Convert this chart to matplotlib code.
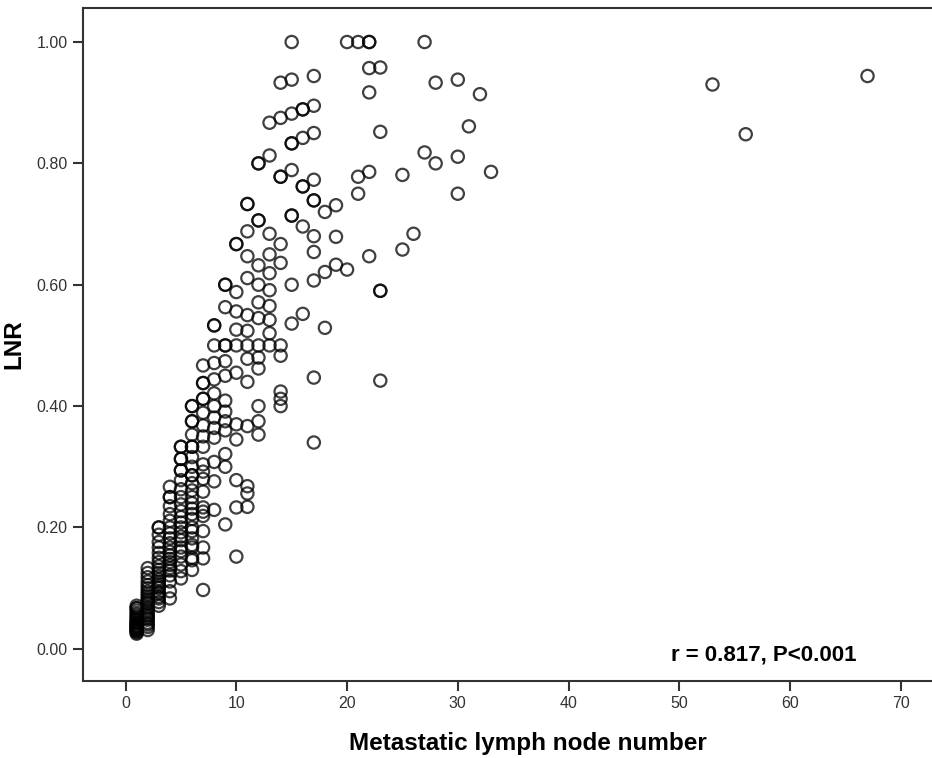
import numpy as np
import matplotlib
matplotlib.use("Agg")
import matplotlib.pyplot as plt

plt.rcParams['font.family'] = ['Liberation Sans', 'DejaVu Sans']

# LNR values grouped by metastatic lymph node count
lnr_1 = [0.025, 0.027, 0.029, 0.030, 0.032, 0.033, 0.034, 0.036, 0.037, 0.038, 0.040,
         0.042, 0.043, 0.045, 0.048, 0.050, 0.053, 0.056, 0.059, 0.063, 0.067, 0.067, 0.071]
lnr_2 = [0.031, 0.036, 0.040, 0.043, 0.048, 0.051, 0.054, 0.057, 0.061, 0.065, 0.069,
         0.074, 0.077, 0.080, 0.083, 0.087, 0.091, 0.095, 0.100, 0.105, 0.111, 0.118, 0.125, 0.133]
lnr_3 = [0.071, 0.077, 0.083, 0.086, 0.091, 0.094, 0.100, 0.103, 0.107, 0.111, 0.115,
         0.120, 0.125, 0.130, 0.136, 0.143, 0.150, 0.158, 0.167, 0.176, 0.188, 0.200, 0.200]
lnr_4 = [0.083, 0.095, 0.111, 0.121, 0.129, 0.133, 0.138, 0.143, 0.148, 0.154, 0.160,
         0.167, 0.174, 0.182, 0.190, 0.200, 0.211, 0.222, 0.235, 0.250, 0.250, 0.267]
lnr_5 = [0.116, 0.128, 0.139, 0.152, 0.161, 0.167, 0.179, 0.185, 0.192, 0.200, 0.208,
         0.217, 0.227, 0.238, 0.250, 0.263, 0.278, 0.294, 0.294, 0.313, 0.313, 0.333, 0.333]
lnr_6 = [0.130, 0.146, 0.150, 0.167, 0.171, 0.182, 0.194, 0.200, 0.214, 0.222, 0.231,
         0.240, 0.250, 0.261, 0.273, 0.286, 0.286, 0.300, 0.316, 0.333, 0.333, 0.353,
         0.375, 0.375, 0.400, 0.400]
lnr_7 = [0.097, 0.149, 0.167, 0.194, 0.219, 0.226, 0.233, 0.259, 0.280, 0.292, 0.304,
         0.333, 0.350, 0.368, 0.389, 0.412, 0.412, 0.438, 0.438, 0.467]
lnr_8 = [0.229, 0.276, 0.308, 0.348, 0.364, 0.381, 0.400, 0.421, 0.444, 0.471, 0.500,
         0.533, 0.533]
lnr_9 = [0.205, 0.300, 0.321, 0.360, 0.375, 0.391, 0.409, 0.450, 0.474, 0.500, 0.500,
         0.563, 0.600, 0.600]
lnr_10 = [0.152, 0.233, 0.278, 0.345, 0.370, 0.455, 0.500, 0.526, 0.556, 0.588, 0.667, 0.667]
lnr_11 = [0.234, 0.256, 0.268, 0.367, 0.440, 0.478, 0.500, 0.524, 0.550, 0.611, 0.647,
          0.688, 0.733, 0.733]
lnr_12 = [0.353, 0.375, 0.400, 0.462, 0.480, 0.500, 0.545, 0.571, 0.600, 0.632, 0.706,
          0.706, 0.800, 0.800]
lnr_13 = [0.500, 0.520, 0.542, 0.565, 0.591, 0.619, 0.650, 0.684, 0.813, 0.867]
lnr_14 = [0.400, 0.412, 0.424, 0.483, 0.500, 0.636, 0.667, 0.778, 0.778, 0.875, 0.933]
lnr_15 = [0.536, 0.600, 0.714, 0.714, 0.789, 0.833, 0.833, 0.882, 0.938, 1.000]
lnr_16 = [0.552, 0.696, 0.762, 0.762, 0.842, 0.889, 0.889]
lnr_17 = [0.340, 0.447, 0.607, 0.654, 0.680, 0.739, 0.739, 0.773, 0.850, 0.895, 0.944]
lnr_18 = [0.529, 0.621, 0.720]
lnr_19 = [0.633, 0.679, 0.731]
lnr_20 = [0.625, 1.000]
lnr_21 = [0.750, 0.778, 1.000]
lnr_22 = [0.647, 0.786, 0.917, 0.957, 1.000, 1.000]
lnr_23 = [0.442, 0.590, 0.590, 0.852, 0.958]

# sparse cases with many positive nodes
far_nodes = [25, 25, 26, 27, 27, 28, 28, 30, 30, 30, 31, 32, 33, 53, 56, 67]
far_lnr = [0.658, 0.781, 0.684, 0.818, 1.000, 0.800, 0.933, 0.750, 0.811, 0.938,
           0.861, 0.914, 0.786, 0.930, 0.848, 0.944]

x_ticks = [0, 10, 20, 30, 40, 50, 60, 70]
y_ticks = [0.0, 0.2, 0.4, 0.6, 0.8, 1.0]

columns = [lnr_1, lnr_2, lnr_3, lnr_4, lnr_5, lnr_6, lnr_7, lnr_8, lnr_9, lnr_10,
           lnr_11, lnr_12, lnr_13, lnr_14, lnr_15, lnr_16, lnr_17, lnr_18, lnr_19,
           lnr_20, lnr_21, lnr_22, lnr_23]
xs, ys = [], []
for n, vals in enumerate(columns, start=1):
    xs += [n] * len(vals)
    ys += vals
xs += far_nodes
ys += far_lnr

fig = plt.figure(figsize=(9.32, 7.58), dpi=100)
ax = fig.add_axes([0.089, 0.1016, 0.925, 0.8878])

ax.scatter(xs, ys, s=78, facecolors='none', edgecolors='black',
           linewidths=1.6, alpha=0.75, zorder=3)

ax.set_xlim(-3.85, 74)
ax.set_ylim(-0.053, 1.056)
ax.set_xticks(x_ticks)
ax.set_yticks(y_ticks)
ax.set_yticklabels(["%.2f" % v for v in y_ticks])

for side in ['left', 'bottom', 'top', 'right']:
    ax.spines[side].set_linewidth(1.5)
    ax.spines[side].set_color('#333333')
ax.tick_params(direction='out', length=7, width=1.5, color='#333333',
               labelsize=11.5, labelcolor='#333333', pad=4)

ax.set_xlabel("Metastatic lymph node number", fontsize=17.5, fontweight='bold')
ax.xaxis.set_label_coords(0.516, -0.076)
ax.set_ylabel("LNR", fontsize=17.5, fontweight='bold', labelpad=8)

ax.text(66.0, -0.01, "r = 0.817, P<0.001", fontsize=16, fontweight='bold',
        ha='right', va='center')

fig.savefig("out.png", dpi=100)
